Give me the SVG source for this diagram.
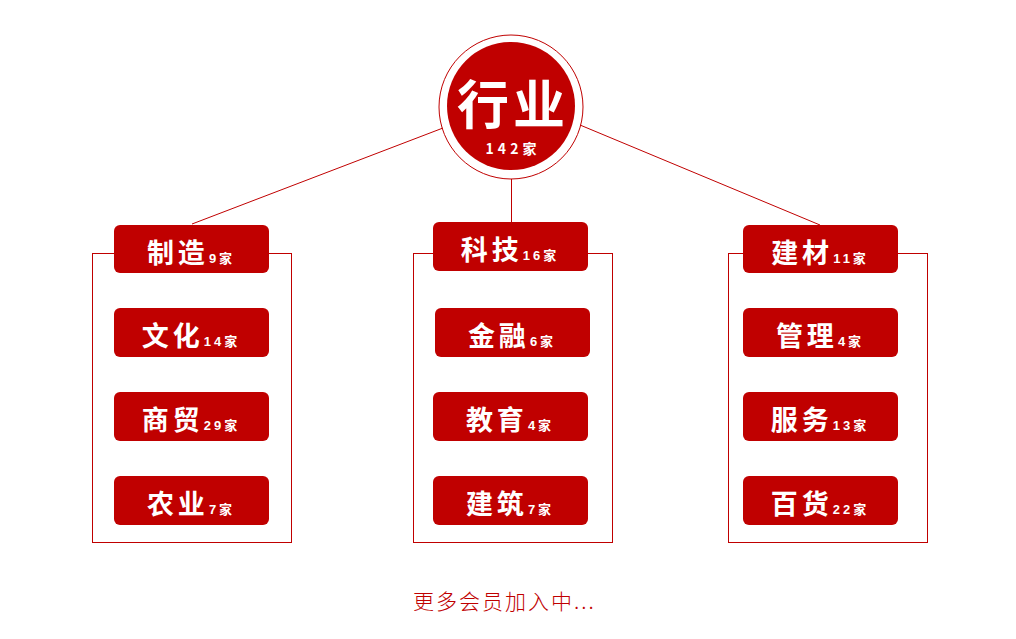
<svg xmlns="http://www.w3.org/2000/svg" width="1016" height="639" viewBox="0 0 1016 639">
<defs>
<style>
.ln{stroke:#c00000;stroke-width:1;fill:none}
.frame{stroke:#c00000;stroke-width:1;fill:none}
.box{fill:#c00000}
.lbl{font-family:"Noto Sans CJK SC","Liberation Sans",sans-serif;fill:#ffffff;text-anchor:middle}
.big{font-size:27px;font-weight:700;letter-spacing:4px}
.cnt{font-size:13px;font-weight:700;letter-spacing:3px;font-family:"Liberation Sans","Noto Sans CJK SC",sans-serif}
.foot{font-family:"Noto Sans CJK SC",sans-serif;font-size:21px;fill:#c00000;font-weight:300;letter-spacing:2px}
</style>
</defs>
<rect width="1016" height="639" fill="#ffffff"/>
<g id="connectors">
<line class="ln" x1="443" y1="128" x2="192" y2="224"/>
<line class="ln" x1="580" y1="125" x2="820" y2="225"/>
<line class="ln" x1="511.5" y1="179" x2="511.5" y2="222"/>
<rect class="frame" x="92.5" y="253.5" width="199" height="289"/>
<rect class="frame" x="413.5" y="253.5" width="199" height="289"/>
<rect class="frame" x="728.5" y="253.5" width="199" height="289"/>
</g>
<g id="root">
<circle cx="511" cy="107" r="72" fill="none" stroke="#c00000" stroke-width="1"/>
<circle cx="511" cy="106" r="64" fill="#c00000"/>
<text class="lbl" x="513" y="124" font-size="52" font-weight="700" letter-spacing="4">行业</text>
<text class="lbl" x="513" y="154" font-size="14" font-weight="700" letter-spacing="4" font-family="Liberation Sans, Noto Sans CJK SC, sans-serif">142家</text>
</g>
<g id="n-zhizao"><rect class="box" x="114" y="225" width="155" height="48" rx="6"/><text class="lbl" x="191" y="263"><tspan class="big">制造</tspan><tspan class="cnt">9家</tspan></text></g>
<g id="n-wenhua"><rect class="box" x="114" y="308" width="155" height="49" rx="6"/><text class="lbl" x="191" y="346"><tspan class="big">文化</tspan><tspan class="cnt">14家</tspan></text></g>
<g id="n-shangmao"><rect class="box" x="114" y="392" width="155" height="49" rx="6"/><text class="lbl" x="191" y="430"><tspan class="big">商贸</tspan><tspan class="cnt">29家</tspan></text></g>
<g id="n-nongye"><rect class="box" x="114" y="476" width="155" height="49" rx="6"/><text class="lbl" x="191" y="514"><tspan class="big">农业</tspan><tspan class="cnt">7家</tspan></text></g>
<g id="n-keji"><rect class="box" x="433" y="222" width="155" height="49" rx="6"/><text class="lbl" x="510" y="260"><tspan class="big">科技</tspan><tspan class="cnt">16家</tspan></text></g>
<g id="n-jinrong"><rect class="box" x="435" y="308" width="155" height="49" rx="6"/><text class="lbl" x="512" y="346"><tspan class="big">金融</tspan><tspan class="cnt">6家</tspan></text></g>
<g id="n-jiaoyu"><rect class="box" x="433" y="392" width="155" height="49" rx="6"/><text class="lbl" x="510" y="430"><tspan class="big">教育</tspan><tspan class="cnt">4家</tspan></text></g>
<g id="n-jianzhu"><rect class="box" x="433" y="476" width="155" height="49" rx="6"/><text class="lbl" x="510" y="514"><tspan class="big">建筑</tspan><tspan class="cnt">7家</tspan></text></g>
<g id="n-jiancai"><rect class="box" x="743" y="225" width="155" height="48" rx="6"/><text class="lbl" x="820" y="263"><tspan class="big">建材</tspan><tspan class="cnt">11家</tspan></text></g>
<g id="n-guanli"><rect class="box" x="743" y="308" width="155" height="49" rx="6"/><text class="lbl" x="820" y="346"><tspan class="big">管理</tspan><tspan class="cnt">4家</tspan></text></g>
<g id="n-fuwu"><rect class="box" x="743" y="392" width="155" height="49" rx="6"/><text class="lbl" x="820" y="430"><tspan class="big">服务</tspan><tspan class="cnt">13家</tspan></text></g>
<g id="n-baihuo"><rect class="box" x="743" y="476" width="155" height="49" rx="6"/><text class="lbl" x="820" y="514"><tspan class="big">百货</tspan><tspan class="cnt">22家</tspan></text></g>
<text class="foot" x="413" y="609">更多会员加入中...</text>
</svg>
